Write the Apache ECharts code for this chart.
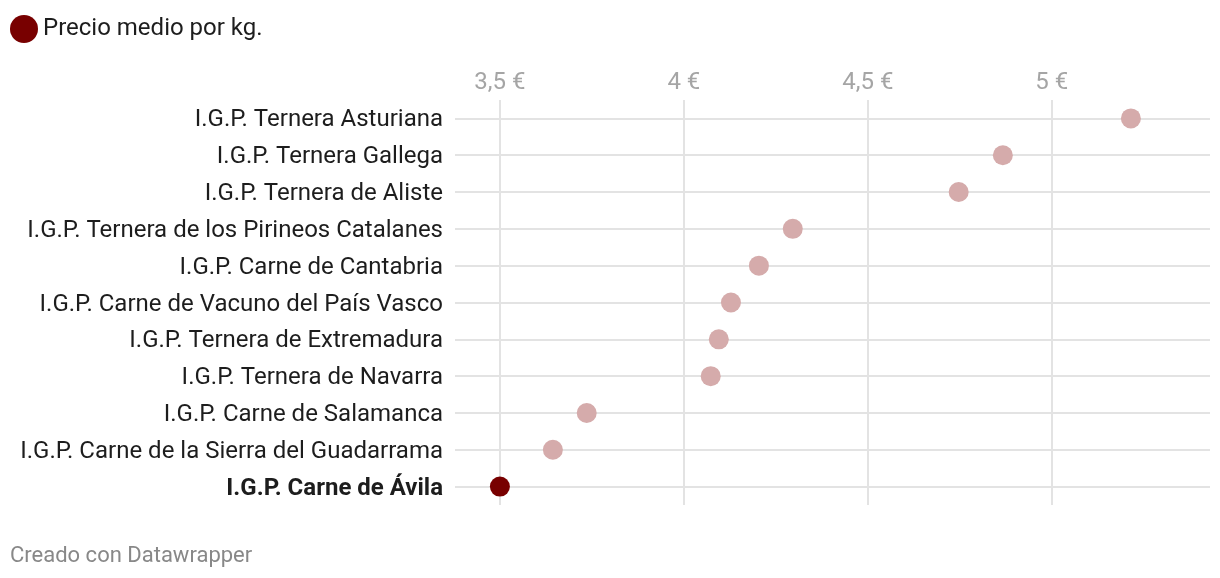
<!DOCTYPE html>
<html><head><meta charset="utf-8">
<script src="https://cdn.jsdelivr.net/npm/echarts@6/dist/echarts.min.js"></script>
<style>html,body{margin:0;padding:0;background:#fff}#c{width:1220px;height:578px}</style>
</head><body><div id="c"></div>
<script>
const categories = [
  'I.G.P. Ternera Asturiana',
  'I.G.P. Ternera Gallega',
  'I.G.P. Ternera de Aliste',
  'I.G.P. Ternera de los Pirineos Catalanes',
  'I.G.P. Carne de Cantabria',
  'I.G.P. Carne de Vacuno del País Vasco',
  'I.G.P. Ternera de Extremadura',
  'I.G.P. Ternera de Navarra',
  'I.G.P. Carne de Salamanca',
  'I.G.P. Carne de la Sierra del Guadarrama',
  'I.G.P. Carne de Ávila'
];
const prices = [5.215, 4.867, 4.747, 4.296, 4.204, 4.128, 4.095, 4.073, 3.736, 3.644, 3.50];
const highlight = 'I.G.P. Carne de Ávila';
const tickValues = [3.5, 4, 4.5, 5];
const seriesName = 'Precio medio por kg.';
const footer = 'Creado con Datawrapper';

const DARK = '#780000', PALE = '#d5abab', GRID = '#e3e3e3';
const chart = echarts.init(document.getElementById('c'), null, {renderer: 'canvas'});
chart.setOption({
  animation: false,
  textStyle: {fontFamily: 'Roboto'},
  legend: {
    left: 5, top: 10, icon: 'circle', itemWidth: 28, itemHeight: 28, itemGap: 3,
    textStyle: {fontSize: 24, color: '#1d1d1d', fontFamily: 'Roboto'},
    data: [seriesName]
  },
  graphic: [{type: 'text', left: 10, top: 545, style: {text: footer, fontSize: 22, fill: '#888', fontFamily: 'Roboto'}}],
  grid: {left: 455, right: 10, top: 100, height: 405},
  xAxis: {
    type: 'value', position: 'top', min: 3.378, max: 5.43,
    axisLine: {show: false}, axisTick: {show: false},
    splitLine: {show: false},
    axisLabel: {customValues: tickValues, fontSize: 24, color: '#a5a5a5', margin: 5,
      formatter: v => String(v).replace('.', ',') + ' €'}
  },
  yAxis: {
    type: 'category', inverse: true, data: categories,
    axisLine: {show: false}, axisTick: {show: false}, splitLine: {show: false},
    axisLabel: {fontSize: 24, color: '#1d1d1d', margin: 12, padding: [4, 0, 0, 0],
      formatter: v => v === highlight ? '{b|' + v + '}' : v,
      rich: {b: {fontWeight: 'bold', fontSize: 24, color: '#1d1d1d', fontFamily: 'Roboto'}}}
  },
  series: [{
    name: seriesName, type: 'scatter', symbolSize: 20, z: 5,
    itemStyle: {color: DARK, opacity: 1},
    data: prices.map((p, i) => ({value: [p, categories[i]],
      itemStyle: {color: categories[i] === highlight ? DARK : PALE}})),
    markLine: {
      silent: true, symbol: 'none', label: {show: false}, z: 1,
      lineStyle: {color: GRID, width: 2, type: 'solid'},
      data: categories.map(c => ({yAxis: c})).concat(tickValues.map(t => ({xAxis: t})))
    }
  }]
});
</script></body></html>
